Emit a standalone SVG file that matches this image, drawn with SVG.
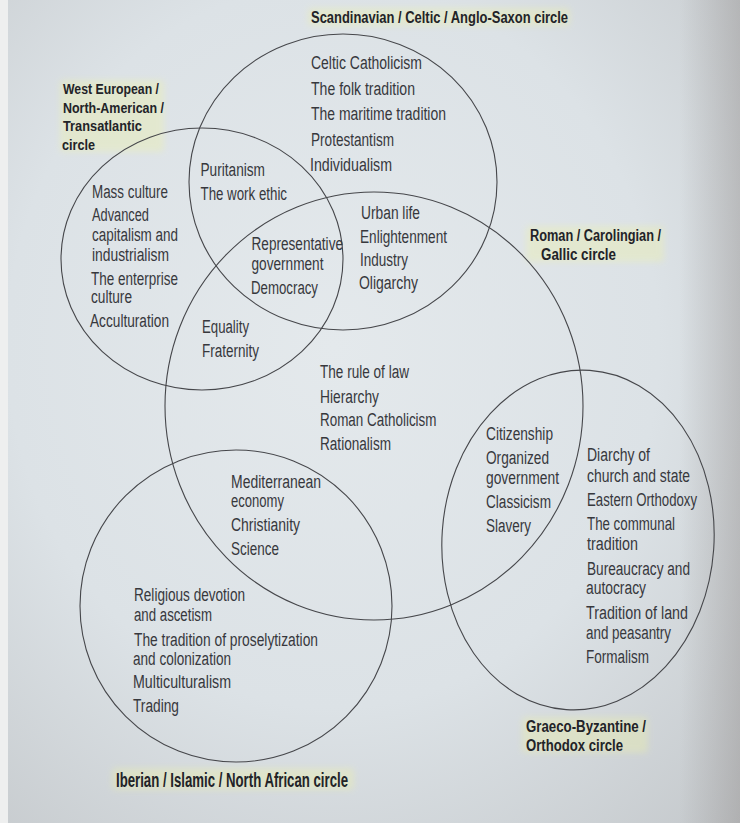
<svg xmlns="http://www.w3.org/2000/svg" width="740" height="823" viewBox="0 0 740 823">
<defs>
  <radialGradient id="bg" cx="0.45" cy="0.42" r="0.8">
    <stop offset="0" stop-color="#e4e9ec"/>
    <stop offset="0.55" stop-color="#dce2e6"/>
    <stop offset="1" stop-color="#c4c8cb"/>
  </radialGradient>
  <linearGradient id="shadeR" x1="0" y1="0" x2="1" y2="0">
    <stop offset="0" stop-color="#8a8482" stop-opacity="0"/>
    <stop offset="1" stop-color="#8a8482" stop-opacity="0.35"/>
  </linearGradient>
  <filter id="soft" x="-20%" y="-50%" width="140%" height="200%">
    <feGaussianBlur stdDeviation="3"/>
  </filter>
  <style>
    .c { fill: none; stroke: #46474b; stroke-width: 1.1; }
    .t { font-family: "Liberation Sans Narrow", "Liberation Sans", Arial, sans-serif; font-size: 18px; fill: #37383d; }
    .b { font-family: "Liberation Sans Narrow", "Liberation Sans", Arial, sans-serif; font-size: 16px; font-weight: bold; fill: #222328; }
    .hl { fill: #eef2a4; opacity: 0.35; filter: url(#soft); }
  </style>
</defs>

<!-- page background -->
<rect x="0" y="0" width="740" height="823" fill="url(#bg)"/>
<rect x="680" y="0" width="60" height="823" fill="url(#shadeR)"/>
<rect x="0" y="0" width="8" height="823" fill="#eeefef"/>

<!-- highlighter marks -->
<g id="highlights">
  <rect class="hl" x="308" y="8" width="262" height="18" rx="4"/>
  <rect class="hl" x="60" y="80" width="104" height="72" rx="4"/>
  <rect class="hl" x="526" y="226" width="138" height="36" rx="4"/>
  <rect class="hl" x="522" y="717" width="126" height="36" rx="4"/>
  <rect class="hl" x="112" y="768" width="242" height="22" rx="4"/>
</g>

<!-- circles -->
<g id="scandinavian-circle">
  <ellipse class="c" cx="343" cy="182" rx="154" ry="148"/>
  <text class="b" x="311" y="22.5" textLength="257" lengthAdjust="spacingAndGlyphs">Scandinavian / Celtic / Anglo-Saxon circle</text>
</g>
<g id="west-european-circle">
  <ellipse class="c" cx="202" cy="259" rx="141" ry="131"/>
  <text class="b" style="font-size:15px" x="63" y="93.5" textLength="96" lengthAdjust="spacingAndGlyphs">West European /</text>
  <text class="b" style="font-size:15px" x="63" y="112.5" textLength="101" lengthAdjust="spacingAndGlyphs">North-American /</text>
  <text class="b" style="font-size:15px" x="63" y="131" textLength="79" lengthAdjust="spacingAndGlyphs">Transatlantic</text>
  <text class="b" style="font-size:15px" x="62" y="150" textLength="33" lengthAdjust="spacingAndGlyphs">circle</text>
</g>
<g id="roman-circle">
  <ellipse class="c" cx="374" cy="406" rx="209" ry="214"/>
  <text class="b" x="530" y="241" textLength="131" lengthAdjust="spacingAndGlyphs">Roman / Carolingian /</text>
  <text class="b" x="541" y="260" textLength="75" lengthAdjust="spacingAndGlyphs">Gallic circle</text>
</g>
<g id="graeco-byzantine-circle">
  <ellipse class="c" cx="578" cy="540" rx="136" ry="170" transform="rotate(4 578 540)"/>
  <text class="b" x="526" y="731.5" textLength="120" lengthAdjust="spacingAndGlyphs">Graeco-Byzantine /</text>
  <text class="b" x="526" y="751" textLength="97" lengthAdjust="spacingAndGlyphs">Orthodox circle</text>
</g>
<g id="iberian-circle">
  <ellipse class="c" cx="236" cy="606" rx="156" ry="156"/>
  <text class="b" style="font-size:20px" x="116" y="787" textLength="232" lengthAdjust="spacingAndGlyphs">Iberian / Islamic / North African circle</text>
</g>

<!-- region texts -->
<g id="scandinavian-only">
  <text class="t" x="311" y="68.5" textLength="111" lengthAdjust="spacingAndGlyphs">Celtic Catholicism</text>
  <text class="t" x="311" y="94.5" textLength="104" lengthAdjust="spacingAndGlyphs">The folk tradition</text>
  <text class="t" x="311" y="120" textLength="135" lengthAdjust="spacingAndGlyphs">The maritime tradition</text>
  <text class="t" x="311" y="145.5" textLength="83" lengthAdjust="spacingAndGlyphs">Protestantism</text>
  <text class="t" x="310" y="171" textLength="82" lengthAdjust="spacingAndGlyphs">Individualism</text>
</g>
<g id="west-only">
  <text class="t" x="92" y="197.5" textLength="76" lengthAdjust="spacingAndGlyphs">Mass culture</text>
  <text class="t" x="92" y="221" textLength="57" lengthAdjust="spacingAndGlyphs">Advanced</text>
  <text class="t" x="92" y="240.5" textLength="86" lengthAdjust="spacingAndGlyphs">capitalism and</text>
  <text class="t" x="92" y="261" textLength="77" lengthAdjust="spacingAndGlyphs">industrialism</text>
  <text class="t" x="91" y="284.5" textLength="87" lengthAdjust="spacingAndGlyphs">The enterprise</text>
  <text class="t" x="91" y="303" textLength="41" lengthAdjust="spacingAndGlyphs">culture</text>
  <text class="t" x="90" y="326.5" textLength="79" lengthAdjust="spacingAndGlyphs">Acculturation</text>
</g>
<g id="west-scandinavian">
  <text class="t" x="200.5" y="176" textLength="64.5" lengthAdjust="spacingAndGlyphs">Puritanism</text>
  <text class="t" x="200.5" y="199.5" textLength="86.5" lengthAdjust="spacingAndGlyphs">The work ethic</text>
</g>
<g id="scandinavian-roman">
  <text class="t" x="361" y="218.5" textLength="59" lengthAdjust="spacingAndGlyphs">Urban life</text>
  <text class="t" x="360" y="242.5" textLength="87" lengthAdjust="spacingAndGlyphs">Enlightenment</text>
  <text class="t" x="360" y="265.5" textLength="48" lengthAdjust="spacingAndGlyphs">Industry</text>
  <text class="t" x="359" y="289" textLength="59" lengthAdjust="spacingAndGlyphs">Oligarchy</text>
</g>
<g id="west-scandinavian-roman">
  <text class="t" x="251.5" y="250" textLength="91.5" lengthAdjust="spacingAndGlyphs">Representative</text>
  <text class="t" x="251.5" y="269.5" textLength="72" lengthAdjust="spacingAndGlyphs">government</text>
  <text class="t" x="251" y="293.5" textLength="67" lengthAdjust="spacingAndGlyphs">Democracy</text>
</g>
<g id="west-roman">
  <text class="t" x="202" y="333" textLength="47" lengthAdjust="spacingAndGlyphs">Equality</text>
  <text class="t" x="202" y="357" textLength="57" lengthAdjust="spacingAndGlyphs">Fraternity</text>
</g>
<g id="roman-only">
  <text class="t" x="320" y="378" textLength="89" lengthAdjust="spacingAndGlyphs">The rule of law</text>
  <text class="t" x="320" y="402.5" textLength="59" lengthAdjust="spacingAndGlyphs">Hierarchy</text>
  <text class="t" x="320" y="426" textLength="116.5" lengthAdjust="spacingAndGlyphs">Roman Catholicism</text>
  <text class="t" x="320" y="450" textLength="71" lengthAdjust="spacingAndGlyphs">Rationalism</text>
</g>
<g id="roman-graeco">
  <text class="t" x="486" y="439.5" textLength="67" lengthAdjust="spacingAndGlyphs">Citizenship</text>
  <text class="t" x="486" y="463.5" textLength="63" lengthAdjust="spacingAndGlyphs">Organized</text>
  <text class="t" x="486" y="483.5" textLength="73" lengthAdjust="spacingAndGlyphs">government</text>
  <text class="t" x="486" y="508" textLength="65" lengthAdjust="spacingAndGlyphs">Classicism</text>
  <text class="t" x="486" y="531.5" textLength="45" lengthAdjust="spacingAndGlyphs">Slavery</text>
</g>
<g id="graeco-only">
  <text class="t" x="587" y="461" textLength="63" lengthAdjust="spacingAndGlyphs">Diarchy of</text>
  <text class="t" x="587" y="482" textLength="103" lengthAdjust="spacingAndGlyphs">church and state</text>
  <text class="t" x="587" y="505.5" textLength="110" lengthAdjust="spacingAndGlyphs">Eastern Orthodoxy</text>
  <text class="t" x="587" y="530" textLength="88" lengthAdjust="spacingAndGlyphs">The communal</text>
  <text class="t" x="587" y="550" textLength="51" lengthAdjust="spacingAndGlyphs">tradition</text>
  <text class="t" x="587" y="574.5" textLength="103" lengthAdjust="spacingAndGlyphs">Bureaucracy and</text>
  <text class="t" x="586" y="593.5" textLength="60" lengthAdjust="spacingAndGlyphs">autocracy</text>
  <text class="t" x="586" y="619" textLength="102" lengthAdjust="spacingAndGlyphs">Tradition of land</text>
  <text class="t" x="586" y="638.5" textLength="85" lengthAdjust="spacingAndGlyphs">and peasantry</text>
  <text class="t" x="586" y="663" textLength="63" lengthAdjust="spacingAndGlyphs">Formalism</text>
</g>
<g id="roman-iberian">
  <text class="t" x="231" y="487.5" textLength="90" lengthAdjust="spacingAndGlyphs">Mediterranean</text>
  <text class="t" x="231" y="506.5" textLength="53" lengthAdjust="spacingAndGlyphs">economy</text>
  <text class="t" x="231" y="530.5" textLength="69" lengthAdjust="spacingAndGlyphs">Christianity</text>
  <text class="t" x="231" y="554.5" textLength="48" lengthAdjust="spacingAndGlyphs">Science</text>
</g>
<g id="iberian-only">
  <text class="t" x="134" y="601" textLength="111" lengthAdjust="spacingAndGlyphs">Religious devotion</text>
  <text class="t" x="134" y="621" textLength="78" lengthAdjust="spacingAndGlyphs">and ascetism</text>
  <text class="t" x="134" y="645.5" textLength="184" lengthAdjust="spacingAndGlyphs">The tradition of proselytization</text>
  <text class="t" x="133" y="665" textLength="98" lengthAdjust="spacingAndGlyphs">and colonization</text>
  <text class="t" x="133" y="688" textLength="98" lengthAdjust="spacingAndGlyphs">Multiculturalism</text>
  <text class="t" x="133" y="711.5" textLength="46" lengthAdjust="spacingAndGlyphs">Trading</text>
</g>
</svg>
